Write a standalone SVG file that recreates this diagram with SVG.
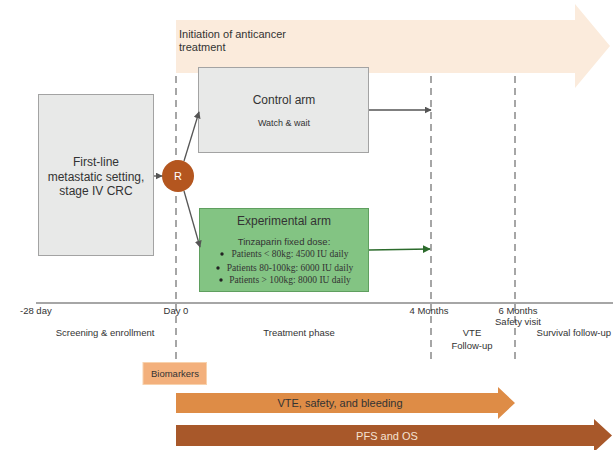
<svg xmlns="http://www.w3.org/2000/svg" width="613" height="450" viewBox="0 0 613 450">
<defs>
<style>
text{font-family:"Liberation Sans",Arial,sans-serif;fill:#333}
.box{fill:#e8e9e8;stroke:#a3a3a3;stroke-width:1}
.dash{stroke:#777;stroke-width:1.3;stroke-dasharray:7,5;fill:none}
.conn{stroke:#555;stroke-width:1.3;fill:none}
.serif{font-family:"Liberation Serif","Times New Roman",serif}
.lbl{font-size:9.5px}
</style>
<marker id="ah" viewBox="0 0 10 10" refX="9" refY="5" markerWidth="7" markerHeight="7" markerUnits="userSpaceOnUse" orient="auto"><path d="M0,0L10,5L0,10z" fill="#555"/></marker>
<marker id="ahg" viewBox="0 0 10 10" refX="9" refY="5" markerWidth="8" markerHeight="8" markerUnits="userSpaceOnUse" orient="auto"><path d="M0,0L10,5L0,10z" fill="#2c6b2c"/></marker>
</defs>
<rect width="613" height="450" fill="#fff"/>

<g id="initiation">
<path d="M176,20H575V4L610,46L575,88V73H176Z" fill="#fbebdc"/>
<text x="179" y="38" font-size="11">Initiation of anticancer</text>
<text x="179" y="51" font-size="11">treatment</text>
</g>

<g id="timeline">
<line x1="36" y1="303" x2="613" y2="303" stroke="#888" stroke-width="1.5"/>
<line class="dash" x1="176" y1="76" x2="176" y2="362"/>
<line class="dash" x1="431" y1="76" x2="431" y2="362"/>
<line class="dash" x1="515" y1="76" x2="515" y2="362"/>
<text class="lbl" x="20" y="314">-28 day</text>
<text class="lbl" x="176" y="314" text-anchor="middle">Day 0</text>
<text class="lbl" x="429" y="314" text-anchor="middle">4 Months</text>
<text class="lbl" x="518" y="314" text-anchor="middle">6 Months</text>
<text class="lbl" x="518" y="325" text-anchor="middle">Safety visit</text>
<text class="lbl" x="105" y="336" text-anchor="middle">Screening &amp; enrollment</text>
<text class="lbl" x="299" y="336" text-anchor="middle">Treatment phase</text>
<text class="lbl" x="472" y="336" text-anchor="middle">VTE</text>
<text class="lbl" x="472" y="349" text-anchor="middle">Follow-up</text>
<text class="lbl" x="611" y="336" text-anchor="end">Survival follow-up</text>
</g>

<g id="first-line">
<rect class="box" x="38.5" y="94.5" width="115" height="161"/>
<text x="96" y="166" font-size="12" text-anchor="middle">First-line</text>
<text x="96" y="181" font-size="12" text-anchor="middle">metastatic setting,</text>
<text x="96" y="195" font-size="12" text-anchor="middle">stage IV CRC</text>
</g>

<g id="randomize">
<circle cx="178" cy="176" r="16" fill="#b4561f"/>
<text x="178" y="180" font-size="11" text-anchor="middle" style="fill:#fff">R</text>
</g>

<g id="control-arm">
<rect class="box" x="198.5" y="67.5" width="170" height="85"/>
<text x="284" y="104" font-size="12" text-anchor="middle">Control arm</text>
<text x="284" y="126" font-size="9" text-anchor="middle">Watch &amp; wait</text>
</g>

<g id="experimental-arm">
<rect x="199.5" y="208.5" width="169" height="83" fill="#83c483" stroke="#5f9f5f"/>
<text x="284" y="225" font-size="12" text-anchor="middle">Experimental arm</text>
<text x="284" y="245" font-size="9.5" text-anchor="middle">Tinzaparin fixed dose:</text>
<circle cx="222" cy="254" r="1.7" fill="#222"/>
<circle cx="218" cy="268" r="1.7" fill="#222"/>
<circle cx="221" cy="280" r="1.7" fill="#222"/>
<text class="serif" x="290" y="257" font-size="9.5" text-anchor="middle">Patients &lt; 80kg: 4500 IU daily</text>
<text class="serif" x="290" y="271" font-size="9.5" text-anchor="middle">Patients 80-100kg: 6000 IU daily</text>
<text class="serif" x="290" y="283" font-size="9.5" text-anchor="middle">Patients &gt; 100kg: 8000 IU daily</text>
</g>

<g id="connectors">
<line class="conn" x1="154" y1="176" x2="162" y2="176" marker-end="url(#ah)"/>
<line class="conn" x1="184" y1="161" x2="199" y2="112" marker-end="url(#ah)"/>
<line class="conn" x1="184" y1="191" x2="200" y2="247" marker-end="url(#ah)"/>
<line class="conn" x1="369" y1="110" x2="431" y2="110" marker-end="url(#ah)"/>
<line x1="369" y1="250" x2="430" y2="249" stroke="#2c6b2c" stroke-width="1.3" marker-end="url(#ahg)"/>
</g>

<g id="biomarkers">
<rect x="143" y="362.5" width="63.5" height="22" fill="#f3b07c" stroke="#f8d2ad"/>
<text x="175" y="377" font-size="9.5" text-anchor="middle">Biomarkers</text>
</g>

<g id="vte-safety">
<path d="M176,393H498V387L515,403L498,419V413H176Z" fill="#de8c46"/>
<text x="340" y="407" font-size="11" text-anchor="middle">VTE, safety, and bleeding</text>
</g>

<g id="pfs-os">
<path d="M176,425H594V419L612,435.5L594,452V446H176Z" fill="#a8582a"/>
<text x="387" y="440" font-size="11" text-anchor="middle" style="fill:#f5e2d2">PFS and OS</text>
</g>
</svg>
